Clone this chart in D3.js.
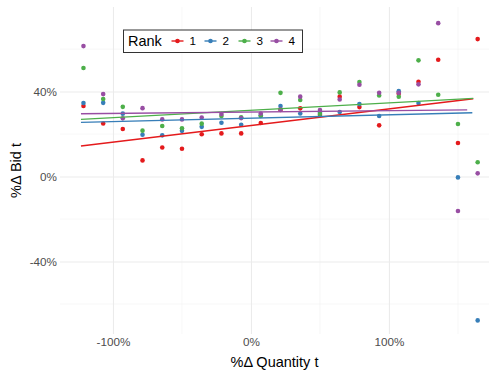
<!DOCTYPE html>
<html>
<head>
<meta charset="utf-8">
<script src="https://cdn.jsdelivr.net/npm/d3@7"></script>
<style>
  body { margin: 0; background: #fff; }
  svg { font-family: "Liberation Sans", Arial, Helvetica, sans-serif; }
</style>
</head>
<body>
<div id="chart"></div>
<script>
// data (x and y as fractions, shown as %)
const ranks = ["1", "2", "3", "4"];
const rankColors = ["#E41A1C", "#377EB8", "#4DAF4A", "#984EA3"];

const xTicks = [-1, 0, 1];
const yTicks = [-0.4, 0, 0.4];

const rank1 = [
  [-1.214, 0.332], [-1.071, 0.250], [-0.929, 0.224], [-0.786, 0.076], [-0.643, 0.137],
  [-0.500, 0.131], [-0.357, 0.199], [-0.214, 0.203], [-0.071, 0.203], [0.071, 0.252],
  [0.214, 0.313], [0.357, 0.321], [0.500, 0.290], [0.643, 0.376], [0.786, 0.327],
  [0.929, 0.241], [1.071, 0.390], [1.214, 0.446], [1.357, 0.550], [1.500, 0.158],
  [1.643, 0.647]
];
const rank2 = [
  [-1.214, 0.346], [-1.071, 0.347], [-0.929, 0.296], [-0.786, 0.197], [-0.643, 0.194],
  [-0.500, 0.215], [-0.357, 0.234], [-0.214, 0.253], [-0.071, 0.244], [0.071, 0.289],
  [0.214, 0.332], [0.357, 0.297], [0.500, 0.300], [0.643, 0.304], [0.786, 0.341],
  [0.929, 0.285], [1.071, 0.402], [1.214, 0.346], [1.500, -0.004], [1.643, -0.677]
];
const rank3 = [
  [-1.214, 0.511], [-1.071, 0.365], [-0.929, 0.328], [-0.786, 0.216], [-0.643, 0.238],
  [-0.500, 0.227], [-0.357, 0.249], [-0.214, 0.285], [-0.071, 0.279], [0.071, 0.285],
  [0.214, 0.394], [0.357, 0.360], [0.500, 0.294], [0.643, 0.396], [0.786, 0.445],
  [0.929, 0.382], [1.071, 0.376], [1.214, 0.547], [1.357, 0.385], [1.500, 0.247],
  [1.643, 0.067]
];
const rank4 = [
  [-1.214, 0.614], [-1.071, 0.388], [-0.929, 0.274], [-0.786, 0.322], [-0.643, 0.269],
  [-0.500, 0.269], [-0.357, 0.278], [-0.214, 0.294], [-0.071, 0.275], [0.071, 0.297],
  [0.214, 0.316], [0.357, 0.376], [0.500, 0.313], [0.643, 0.363], [0.786, 0.432],
  [0.929, 0.394], [1.071, 0.394], [1.214, 0.434], [1.357, 0.722], [1.500, -0.162],
  [1.643, 0.015]
];

// fitted line ends per rank: [x0, y0, x1, y1]
const fit1 = [-1.232, 0.1435, 1.611, 0.366];
const fit2 = [-1.232, 0.255, 1.604, 0.300];
const fit3 = [-1.232, 0.269, 1.611, 0.368];
const fit4 = [-1.232, 0.2955, 1.567, 0.314];

const series = [rank1, rank2, rank3, rank4];
const fits = [fit1, fit2, fit3, fit4];

const width = 494, height = 373;
const panel = {left: 60, right: 489, top: 7, bottom: 334};

const x = d3.scaleLinear().domain([-1.384, 1.725]).range([panel.left, panel.right]);
const y = d3.scaleLinear().domain([-0.741, 0.798]).range([panel.bottom, panel.top]);
const color = d3.scaleOrdinal().domain(ranks).range(rankColors);
const pct = d => d3.format(".0%")(d).replace("−", "-");

const svg = d3.select("#chart").append("svg")
  .attr("width", width).attr("height", height);

// grid
const grid = svg.append("g");
const xMinor = [-0.5, 0.5, 1.5];
const yMinor = [-0.6, -0.2, 0.2, 0.6];
grid.selectAll(".xminor").data(xMinor).enter().append("line")
  .attr("x1", d => x(d)).attr("x2", d => x(d))
  .attr("y1", panel.top).attr("y2", panel.bottom)
  .attr("stroke", "#F2F2F2").attr("stroke-width", 0.6);
grid.selectAll(".yminor").data(yMinor).enter().append("line")
  .attr("y1", d => y(d)).attr("y2", d => y(d))
  .attr("x1", panel.left).attr("x2", panel.right)
  .attr("stroke", "#F2F2F2").attr("stroke-width", 0.6);

const xAxis = svg.append("g")
  .attr("transform", "translate(0," + panel.bottom + ")")
  .call(d3.axisBottom(x).tickValues(xTicks).tickFormat(pct).tickSize(-(panel.bottom - panel.top)).tickPadding(4));
const yAxis = svg.append("g")
  .attr("transform", "translate(" + panel.left + ",0)")
  .call(d3.axisLeft(y).tickValues(yTicks).tickFormat(pct).tickSize(-(panel.right - panel.left)).tickPadding(3));

[xAxis, yAxis].forEach(a => {
  a.select(".domain").remove();
  a.selectAll(".tick line").attr("stroke", "#EBEBEB").attr("stroke-width", 1.1);
  a.selectAll(".tick text").attr("fill", "#4D4D4D").attr("font-size", "11.7px")
    .attr("font-family", "Liberation Sans, Arial, sans-serif");
});

// points
series.forEach((pts, i) => {
  svg.append("g").selectAll("circle").data(pts).enter().append("circle")
    .attr("cx", d => x(d[0])).attr("cy", d => y(d[1]))
    .attr("r", 2.3).attr("fill", color(ranks[i]));
});

// fitted lines
const line = d3.line().x(d => x(d[0])).y(d => y(d[1]));
fits.forEach((f, i) => {
  svg.append("path")
    .attr("d", line([[f[0], f[1]], [f[2], f[3]]]))
    .attr("fill", "none").attr("stroke", color(ranks[i])).attr("stroke-width", 1.4);
});

// axis titles
svg.append("text")
  .attr("x", (panel.left + panel.right) / 2).attr("y", 367)
  .attr("text-anchor", "middle").attr("font-size", "14.5px").attr("fill", "#000")
  .text("%\u0394 Quantity t");
svg.append("text")
  .attr("transform", "translate(21," + ((panel.top + panel.bottom) / 2) + ") rotate(-90)")
  .attr("text-anchor", "middle").attr("font-size", "14.5px").attr("fill", "#000")
  .text("%\u0394 Bid t");

// legend
const lg = svg.append("g").attr("transform", "translate(123.5,30)");
lg.append("rect").attr("width", 179).attr("height", 22.5)
  .attr("fill", "#fff").attr("stroke", "#333").attr("stroke-width", 1);
lg.append("text").attr("x", 4.5).attr("y", 16.2)
  .attr("font-size", "14.5px").text("Rank");
const keyX = [54, 87, 121, 153];
ranks.forEach((r, i) => {
  const k = lg.append("g").attr("transform", "translate(" + keyX[i] + ",11)");
  k.append("line").attr("x1", -6).attr("x2", 6)
    .attr("stroke", color(r)).attr("stroke-width", 1.4);
  k.append("circle").attr("r", 2.3).attr("fill", color(r));
  k.append("text").attr("x", 12).attr("y", 4.2)
    .attr("font-size", "11.7px").text(r);
});
</script>
</body>
</html>
